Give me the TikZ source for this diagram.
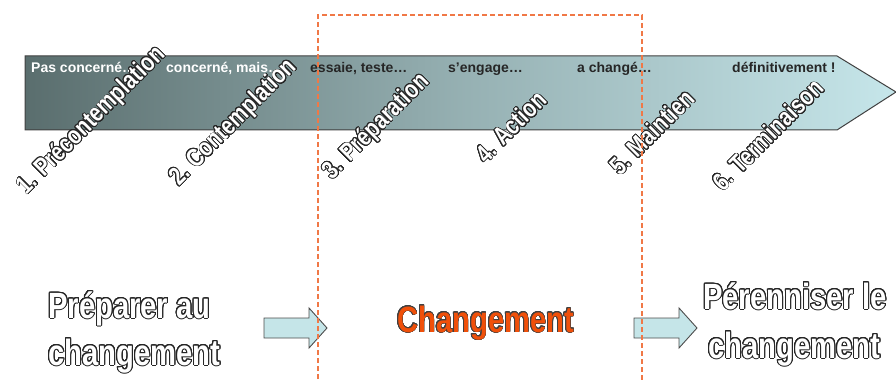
\documentclass[tikz,border=0pt]{standalone}
\usepackage{fontspec}
\setmainfont{Liberation Sans}
\newfontfamily\narrowbf[FakeStretch=0.80]{Liberation Sans Bold}
\usepackage{contour}
\contournumber{24}
\definecolor{arrdark}{RGB}{90,110,110}
\definecolor{arrlight}{RGB}{198,230,234}
\definecolor{dashor}{RGB}{240,120,70}
\definecolor{chgor}{RGB}{240,80,10}
\definecolor{smallfill}{RGB}{197,229,232}
\tikzset{
  toptext/.style={font=\bfseries\fontsize{14}{15}\selectfont, inner sep=0pt, anchor=base west},
  stage/.style={font=\narrowbf\fontsize{25.5}{27}\selectfont, rotate=45, inner sep=0pt},
  bigtext/.style={font=\narrowbf\fontsize{36.5}{40}\selectfont, inner sep=0pt, anchor=base west},
  blockarrow/.style={fill=smallfill, draw=black!70, line width=0.9pt},
}
\newcommand{\outl}[1]{\contourlength{0.8pt}\contour{black!85}{\textcolor{white}{#1}}}
\newcommand{\outlbig}[1]{\contourlength{1pt}\contour{black!85}{\textcolor{white}{#1}}}
\begin{document}
\begin{tikzpicture}[x=1pt,y=-1pt]
\useasboundingbox (0,0) rectangle (896,382);
% main arrow
\path[left color=arrdark, right color=arrlight, middle color=arrlight!55!arrdark]
  (25,56) -- (837,56) -- (896,92) -- (837,130) -- (25,130) -- cycle;
\draw[black!75, line width=1pt] (25,56) -- (837,56) -- (896,92) -- (837,130) -- (25,130) -- cycle;
% top texts
\node[toptext, text=white] (t1) at (31,73) {Pas concerné…};
\node[toptext, text=white] (t2) at (166,73) {concerné, mais…};
\node[toptext, text=black!85] (t3) at (310,73) {essaie, teste…};
\node[toptext, text=black!85] (t4) at (448,73) {s’engage…};
\node[toptext, text=black!85] (t5) at (577,73) {a changé…};
\node[toptext, text=black!85] (t6) at (732,73) {définitivement !};
% stage labels
\node[stage] (s1) at (92,121) {\outl{1. Précontemplation}};
\node[stage] (s2) at (234,123) {\outl{2. Contemplation}};
\node[stage] (s3) at (377,127) {\outl{3. Préparation}};
\node[stage] (s4) at (511,127) {\outl{4. Action}};
\node[stage] (s5) at (652,132) {\outl{5. Maintien}};
\node[stage] (s6) at (768,135) {\outl{6. Terminaison}};
% bottom texts
\node[bigtext] (p1) at (48,318) {\outlbig{Préparer au}};
\node[bigtext] (p2) at (48,365) {\outlbig{changement}};
\node[bigtext] (ch) at (397,332) {\contourlength{0.6pt}\contour{black!75}{\textcolor{chgor}{Changement}}};
\node[bigtext] (q1) at (703,309) {\outlbig{Pérenniser le}};
\node[bigtext] (q2) at (708,358) {\outlbig{changement}};
% small block arrows
\draw[blockarrow] (264,318) -- (309,318) -- (309,308) -- (327,328) -- (309,348) -- (309,338) -- (264,338) -- cycle;
\draw[blockarrow] (634,318) -- (679,318) -- (679,308) -- (697,328) -- (679,348) -- (679,338) -- (634,338) -- cycle;
% dashed frame
\draw[dashor, line width=1.1pt, dash pattern=on 5pt off 3pt] (318,395) -- (318,15) -- (642,15) -- (642,395);
\end{tikzpicture}
\end{document}
